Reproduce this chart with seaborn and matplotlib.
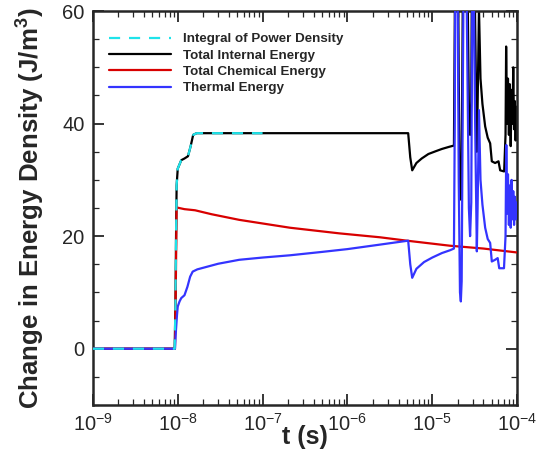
import numpy as np
import pandas as pd
import matplotlib
matplotlib.use("Agg")
import matplotlib.pyplot as plt
import seaborn as sns
from matplotlib.ticker import LogLocator, MultipleLocator

# ---------------- data ----------------
t_power = [1e-9, 9.2e-9, 9.4e-9, 9.55e-9, 9.7e-9, 1.0e-8, 1.1e-8, 1.2e-8, 1.32e-8,
           1.42e-8, 1.52e-8, 1.67e-8, 2e-8, 1e-7]
e_power = [0, 0, 8, 20, 29, 32, 33.5, 33.8, 34.2, 36.0, 38.0, 38.3, 38.3, 38.3]

t_internal = [1e-9, 9.2e-9, 9.4e-9, 9.55e-9, 9.7e-9, 1.0e-8, 1.1e-8, 1.2e-8, 1.32e-8,
              1.42e-8, 1.52e-8, 1.67e-8, 2e-8, 1e-7, 1e-6, 5.2e-6, 5.5e-6, 5.8e-6,
              6.5e-6, 7.5e-6, 9e-6, 1.1e-5, 1.3e-5, 1.6e-5, 1.8e-5,
              1.84e-5, 1.88e-5, 1.98e-5, 2.05e-5, 2.12e-5, 2.17e-5, 2.22e-5, 2.30e-5,
              2.38e-5, 2.55e-5, 2.70e-5, 2.79e-5, 2.88e-5, 3.0e-5, 3.2e-5, 3.35e-5,
              3.42e-5, 3.55e-5, 3.7e-5, 3.9e-5, 4.2e-5, 4.5e-5, 4.81e-5, 5.03e-5,
              5.5e-5, 6.03e-5, 6.31e-5, 7.03e-5, 7.3e-5, 7.42e-5, 7.6e-5, 7.8e-5,
              8.0e-5, 8.2e-5, 8.4e-5, 8.6e-5, 8.8e-5, 9.0e-5, 9.2e-5, 9.4e-5,
              9.6e-5, 9.8e-5, 1e-4]
e_internal = [0, 0, 8, 20, 29, 32, 33.5, 33.8, 34.2, 36.0, 38.0, 38.3, 38.3, 38.3,
              38.3, 38.3, 34.0, 31.7, 33.0, 33.8, 34.6, 35.1, 35.5, 35.9, 36.1,
              58, 98, 88, 48, 28, 26.5, 30, 68,
              103, 78, 43, 38.0, 44, 98, 58, 35.0,
              43, 60.5, 48, 43.5, 39.5, 37.5, 36.5, 33.3,
              33.0, 33.3, 31.7, 31.5, 38, 53.7, 40, 48,
              38, 47, 36, 46, 40, 50, 39, 44,
              37, 43, 41]

t_chem = [1e-9, 9.27e-9, 9.5e-9, 9.7e-9, 1.2e-8, 1.6e-8, 2.5e-8, 5.3e-8, 2.1e-7,
          8e-7, 2.42e-6, 5e-6, 1.62e-5, 4e-5, 1e-4]
e_chem = [0, 0, 12, 25.1, 24.8, 24.6, 23.9, 22.9, 21.5, 20.5, 19.8, 19.2, 18.3, 17.8, 17.1]

t_thermal = [1e-9, 9.27e-9, 9.5e-9, 9.8e-9, 1.0e-8, 1.05e-8, 1.1e-8, 1.2e-8, 1.3e-8,
             1.4e-8, 1.5e-8, 1.7e-8, 3e-8, 5.3e-8, 1e-7, 2.1e-7, 5e-7, 1e-6, 2.42e-6,
             5.2e-6, 5.5e-6, 5.8e-6, 6.5e-6, 8e-6, 1e-5, 1.3e-5, 1.62e-5, 1.8e-5,
             1.84e-5, 1.88e-5, 1.98e-5, 2.05e-5, 2.12e-5, 2.17e-5, 2.22e-5, 2.30e-5,
             2.38e-5, 2.55e-5, 2.70e-5, 2.79e-5, 2.88e-5, 3.0e-5, 3.2e-5, 3.35e-5,
             3.42e-5, 3.55e-5, 3.7e-5, 3.9e-5, 4.2e-5, 4.5e-5, 4.81e-5, 5.03e-5,
             5.5e-5, 5.9e-5, 6.15e-5, 7.0e-5, 7.3e-5, 7.45e-5, 7.6e-5, 7.8e-5,
             8.0e-5, 8.2e-5, 8.4e-5, 8.6e-5, 8.8e-5, 9.0e-5, 9.2e-5, 9.4e-5,
             9.6e-5, 9.8e-5, 1e-4]
e_thermal = [0, 0, 3, 6, 7.5, 8.4, 9.0, 9.5, 11.0,
             12.8, 13.7, 14.1, 15.1, 15.8, 16.2, 16.6, 17.2, 17.7, 18.5,
             19.2, 15.0, 12.6, 14.2, 15.4, 16.2, 17.0, 17.5, 17.8,
             40, 80, 70, 30, 10, 8.4, 12, 50,
             85, 60, 25, 20.0, 26, 80, 40, 17.3,
             25, 42.4, 30, 25.6, 21.5, 19.5, 18.8, 15.5,
             15.8, 16.1, 14.3, 14.3, 20, 36.2, 24, 31,
             22, 29, 21.5, 30, 23, 28, 22, 27,
             23, 26, 24]

labels = ["Integral of Power Density", "Total Internal Energy",
          "Total Chemical Energy", "Thermal Energy"]
colors = ["#1fe3ea", "#000000", "#d80000", "#3434ff"]

# ---------------- plotting ----------------
sns.set_style("ticks")
plt.rcParams["font.family"] = ["Liberation Sans", "DejaVu Sans"]
plt.rcParams["mathtext.fontset"] = "custom"
plt.rcParams["mathtext.rm"] = "Liberation Sans"
plt.rcParams["mathtext.it"] = "Liberation Sans:italic"
plt.rcParams["mathtext.bf"] = "Liberation Sans:bold"

fig = plt.figure(figsize=(5.37, 4.61), dpi=100)
ax = fig.add_axes([0.173, 0.1215, 0.790, 0.8545])

df_int = pd.DataFrame({"t": t_internal, "E": e_internal})
df_chem = pd.DataFrame({"t": t_chem, "E": e_chem})
df_th = pd.DataFrame({"t": t_thermal, "E": e_thermal})
df_pow = pd.DataFrame({"t": t_power, "E": e_power})

lw = 1.6
sns.lineplot(data=df_int, x="t", y="E", ax=ax, color=colors[1], lw=lw,
             label=labels[1], sort=False, estimator=None, zorder=2)
sns.lineplot(data=df_chem, x="t", y="E", ax=ax, color=colors[2], lw=lw,
             label=labels[2], sort=False, estimator=None, zorder=3)
sns.lineplot(data=df_th, x="t", y="E", ax=ax, color=colors[3], lw=lw,
             label=labels[3], sort=False, estimator=None, zorder=4)
sns.lineplot(data=df_pow, x="t", y="E", ax=ax, color=colors[0], lw=lw,
             label=labels[0], sort=False, estimator=None, zorder=5,
             dashes=False, linestyle=(0, (5, 4)))

ax.set_xscale("log")
ax.set_xlim(1e-9, 1e-4)
ax.set_ylim(-10, 60)
ax.yaxis.set_major_locator(MultipleLocator(20))
ax.yaxis.set_minor_locator(MultipleLocator(5))
ax.xaxis.set_major_locator(LogLocator(base=10, numticks=10))
ax.xaxis.set_minor_locator(LogLocator(base=10, subs=np.arange(2, 10), numticks=20))

ax.tick_params(which="both", direction="in", top=True, right=True)
ax.tick_params(which="major", length=8, width=1.3, labelsize=14.5, pad=6)
ax.tick_params(which="minor", length=4, width=0.9)
for s in ax.spines.values():
    s.set_linewidth(1.8)

ax.set_xlabel("t (s)", fontsize=18, fontweight="bold")
ax.xaxis.set_label_coords(0.5, -0.05)
ax.set_ylabel("Change in Energy Density (J/m$^\\mathbf{3}$)", fontsize=18.6,
              fontweight="bold")
ax.yaxis.set_label_coords(-0.108, 0.5)

h, l = ax.get_legend_handles_labels()
order = [3, 0, 1, 2]
ax.legend([h[i] for i in order], [l[i] for i in order], loc="upper left",
          bbox_to_anchor=(0.02, 0.965), frameon=False, handlelength=4.6,
          handletextpad=0.9, labelspacing=0.3, borderaxespad=0.2,
          prop={"weight": "bold", "size": 9.6})

fig.savefig("out.png", dpi=100)
